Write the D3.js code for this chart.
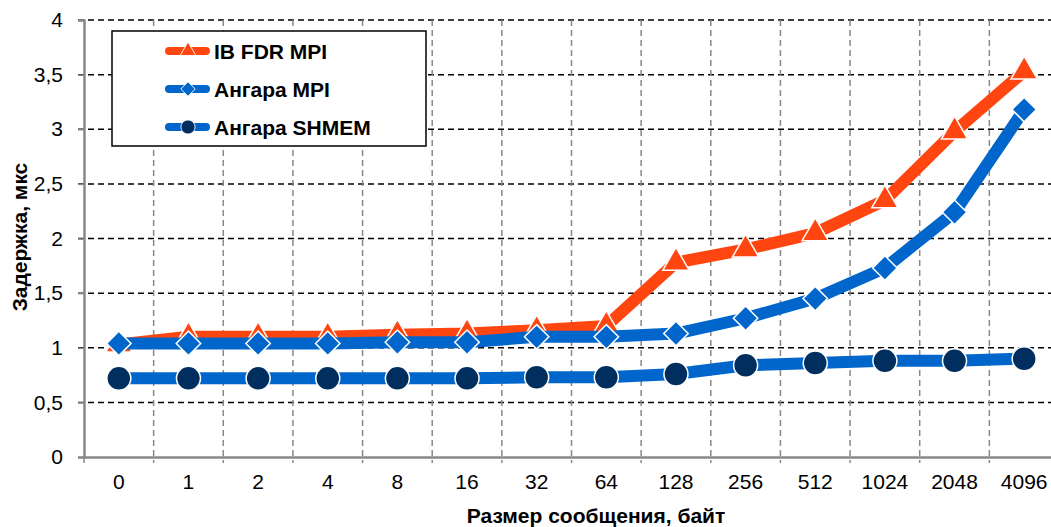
<!DOCTYPE html>
<html><head><meta charset="utf-8">
<script src="https://cdn.jsdelivr.net/npm/d3@7"></script>
<style>body{margin:0;background:#fff}svg{display:block;font-family:"Liberation Sans",Arial,sans-serif}</style>
</head><body><svg id="c" width="1051" height="527"></svg>
<script>
const categories = ["0","1","2","4","8","16","32","64","128","256","512","1024","2048","4096"];
const ibFdrMpi   = [1.03,1.10,1.10,1.10,1.12,1.13,1.16,1.20,1.78,1.90,2.05,2.35,2.98,3.53];
const angaraMpi  = [1.04,1.04,1.04,1.04,1.05,1.05,1.10,1.10,1.13,1.27,1.45,1.73,2.24,3.18];
const angaraShmem= [0.72,0.72,0.72,0.72,0.72,0.72,0.73,0.73,0.76,0.84,0.86,0.88,0.88,0.90];
const yTicks = [0,0.5,1,1.5,2,2.5,3,3.5,4];
const seriesNames = ["IB FDR MPI","Ангара MPI","Ангара SHMEM"];

const svg = d3.select("#c");
const L = 84, R = 1059, T = 20, B = 457;
const x = d3.scaleBand().domain(categories).range([L, R]);
const y = d3.scaleLinear().domain([0,4]).range([B, T]);
const fmt = v => String(v).replace(".", ",");

// horizontal grid
svg.append("g").selectAll("line").data(yTicks.filter(d=>d>0)).join("line")
  .attr("x1", L-6).attr("x2", 1051).attr("y1", d=>y(d)).attr("y2", d=>y(d))
  .attr("stroke","#000").attr("stroke-width",1.5).attr("stroke-dasharray","6,4");
// vertical grid
const bounds = categories.slice(1).map(c => x(c));
svg.append("g").selectAll("line").data(bounds).join("line")
  .attr("x1", d=>d).attr("x2", d=>d).attr("y1", T).attr("y2", B+6)
  .attr("stroke","#888").attr("stroke-width",1.5).attr("stroke-dasharray","6,4");

// axes
const yAxis = svg.append("g").attr("transform",`translate(${L},0)`)
  .call(d3.axisLeft(y).tickValues(yTicks).tickFormat(fmt).tickSize(6).tickPadding(15));
yAxis.select(".domain").attr("stroke","#888").attr("stroke-width",2.5);
yAxis.selectAll(".tick line").attr("stroke","#888").attr("stroke-width",1.5);
yAxis.selectAll("text").attr("font-size",21).attr("fill","#000");

const xAxis = svg.append("g").attr("transform",`translate(0,${B})`)
  .call(d3.axisBottom(x).tickSize(0).tickPadding(17));
xAxis.select(".domain").attr("stroke","#888").attr("stroke-width",2.5);
xAxis.selectAll("text").attr("font-size",21).attr("fill","#000");
svg.append("line").attr("x1",L).attr("x2",L).attr("y1",B).attr("y2",B+6).attr("stroke","#888").attr("stroke-width",1.5);

// titles
svg.append("text").attr("x",596).attr("y",523).attr("text-anchor","middle")
  .attr("font-weight","bold").attr("font-size",21).text("Размер сообщения, байт");
svg.append("text").attr("transform","translate(27,237) rotate(-90)").attr("text-anchor","middle")
  .attr("font-weight","bold").attr("font-size",21).text("Задержка, мкс");

const colors = ["#FF4611","#0066CC","#0066CC"];
const markerFill = ["#FF4611","#0066CC","#002F5F"];
const data = [ibFdrMpi, angaraMpi, angaraShmem];
const cx = c => x(c) + x.bandwidth()/2;
const line = d3.line().x((d,i)=>cx(categories[i])).y(d=>y(d));

function drawMarker(g, k, px, py, scale){
  if(k===0){
    g.append("path").attr("d", d3.symbol().type(d3.symbolTriangle).size(300*scale)())
      .attr("transform",`translate(${px},${py})`)
      .attr("fill",markerFill[k]).attr("stroke","#fff").attr("stroke-width",1.5*Math.sqrt(scale));
  } else if(k===1){
    g.append("path").attr("d", d3.symbol().type(d3.symbolSquare).size(300*scale)())
      .attr("transform",`translate(${px},${py}) rotate(45)`)
      .attr("fill",markerFill[k]).attr("stroke","#fff").attr("stroke-width",1.5*Math.sqrt(scale));
  } else {
    g.append("circle").attr("cx",px).attr("cy",py).attr("r",12*Math.sqrt(scale))
      .attr("fill",markerFill[k]).attr("stroke","#fff").attr("stroke-width",1.5*Math.sqrt(scale));
  }
}

data.forEach((vals,k)=>{
  const g = svg.append("g");
  g.append("path").datum(vals).attr("d",line).attr("fill","none")
    .attr("stroke",colors[k]).attr("stroke-width",12).attr("stroke-linejoin","round");
  vals.forEach((v,i)=> drawMarker(g,k,cx(categories[i]),y(v),1));
});

// legend
const lg = svg.append("g");
lg.append("rect").attr("x",112).attr("y",31).attr("width",314).attr("height",115)
  .attr("fill","#fff").attr("stroke","#000").attr("stroke-width",1.5);
const ly = [51,89,127];
seriesNames.forEach((n,k)=>{
  lg.append("line").attr("x1",169).attr("x2",206).attr("y1",ly[k]).attr("y2",ly[k])
    .attr("stroke",colors[k]).attr("stroke-width",8).attr("stroke-linecap","round");
  drawMarker(lg,k,188,ly[k],0.35);
  lg.append("text").attr("x",214).attr("y",ly[k]+7.5).attr("font-weight","bold")
    .attr("font-size",21).text(n);
});
</script></body></html>
